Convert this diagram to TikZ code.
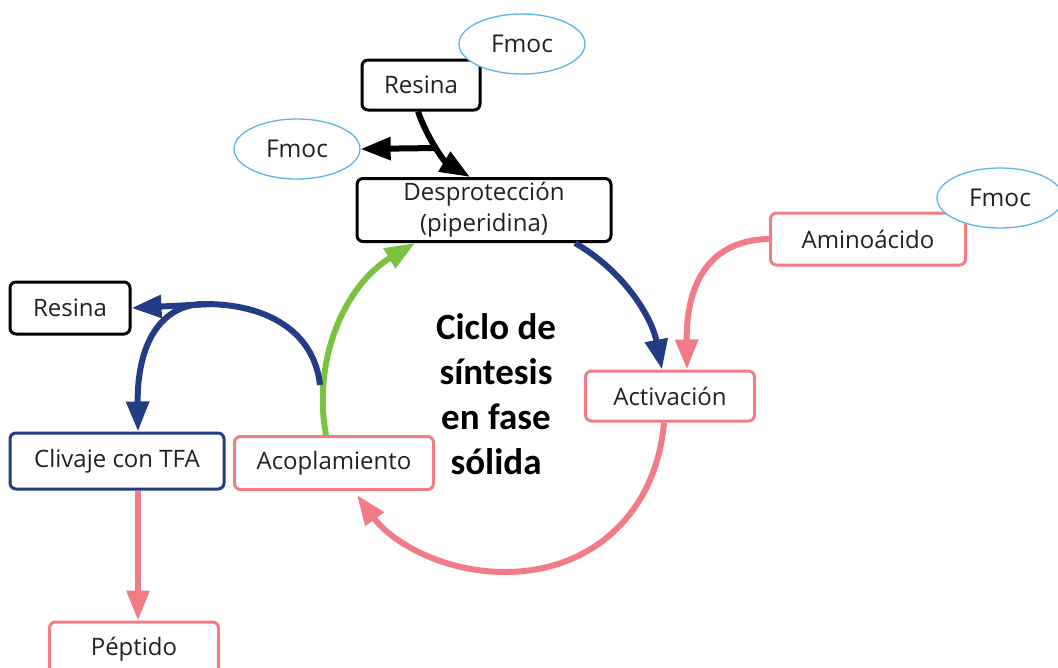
\documentclass[tikz,border=0pt]{standalone}
\usepackage{fontspec}
\setmainfont{Open Sans}
\newfontfamily\titlefont{Carlito}
\usetikzlibrary{arrows.meta,shapes.geometric}
\definecolor{pinkc}{HTML}{F27B88}
\definecolor{bluec}{HTML}{233C86}
\definecolor{greenc}{HTML}{7CC242}
\definecolor{skyc}{HTML}{5BB5E6}
\definecolor{txt}{HTML}{222222}
\tikzset{
  box/.style={draw, line width=3pt, rounded corners=6pt, fill=white, text=txt,
    font=\fontsize{24}{28}\selectfont, inner sep=0pt, align=center},
  blackbox/.style={box, draw=black},
  pinkbox/.style={box, draw=pinkc},
  bluebox/.style={box, draw=bluec},
  fmoc/.style={ellipse, draw=skyc, line width=1.3pt, fill=white, text=txt,
    minimum width=126pt, minimum height=60pt, inner sep=0pt,
    font=\fontsize{24.5}{28}\selectfont},
  conn/.style={line width=6pt, -{Triangle[length=30pt,width=22pt]}},
  plain/.style={line width=6pt},
}
\begin{document}
\begin{tikzpicture}[x=1pt,y=-1pt]
\useasboundingbox (0,0) rectangle (1058,667);
\clip (0,0) rectangle (1058,667);
\fill[white] (0,0) rectangle (1058,667);

% nodes
\node[blackbox, minimum width=118pt, minimum height=50pt] (resT) at (421,85) {Resina};
\node[fmoc] (fmocT) at (522,44) {Fmoc};
\node[fmoc] (fmocL) at (297,149) {Fmoc};
\node[blackbox, minimum width=254pt, minimum height=63pt] (desp) at (484,210) {Desprotección\\[3pt](piperidina)};
\node[pinkbox, minimum width=195pt, minimum height=52pt] (amino) at (868,239) {Aminoácido};
\node[fmoc] (fmocR) at (1000,198) {Fmoc};
\node[pinkbox, minimum width=169pt, minimum height=50pt] (act) at (670,396) {Activación};
\node[pinkbox, minimum width=199pt, minimum height=53pt] (acop) at (334,463) {Acoplamiento};
\node[bluebox, minimum width=214pt, minimum height=56pt] (cliv) at (117,461) {Clivaje con TFA};
\node[blackbox, minimum width=120pt, minimum height=52pt] (resL) at (70,308) {Resina};
\node[pinkbox, minimum width=169pt, minimum height=80pt, text depth=32pt] (pept) at (134,662) {Péptido};
\node[font=\titlefont\bfseries\fontsize{37}{45}\selectfont, text=black, align=center] (title) at (496,394) {Ciclo de\\síntesis\\en fase\\sólida};

% coordinates
\coordinate (bj) at (437,148);
\coordinate (gj) at (320,385);
\coordinate (top) at (205,304);

% black deprotection arrow
\draw[conn, black] ([xshift=-3pt]resT.south) .. controls (428,140) and (445,162) .. ([xshift=-14pt]desp.north);
\draw[conn, black] (bj) -- (fmocL.east);

% blue desp -> act
\draw[conn, bluec] ([xshift=91pt]desp.south) .. controls (625,272) and (652,318) .. ([xshift=-8pt]act.north);
% pink amino -> act
\draw[conn, pinkc] (amino.west) .. controls (712,240) and (686,280) .. ([xshift=17pt]act.north);
% pink big arc act -> acop
\draw[conn, pinkc] ([xshift=-6pt]act.south) .. controls (656,515) and (590,572) .. (505,572) .. controls (440,572) and (390,540) .. ([xshift=23pt,yshift=-4pt]acop.south);
% green acop -> desp
\draw[conn, greenc] ([xshift=-8pt]acop.north) .. controls (312,360) and (345,285) .. ([xshift=-69pt]desp.south);
% blue cleavage
\draw[plain, bluec] (gj) .. controls (314,330) and (265,304) .. (top);
\draw[conn, bluec] (top) .. controls (160,304) and (137,345) .. ([xshift=21pt]cliv.north);
\draw[conn, bluec] ([xshift=6pt]top) -- (resL.east);
% pink cliv -> pept
\draw[conn, pinkc] ([xshift=21pt]cliv.south) -- ([xshift=4pt]pept.north);
\end{tikzpicture}
\end{document}
